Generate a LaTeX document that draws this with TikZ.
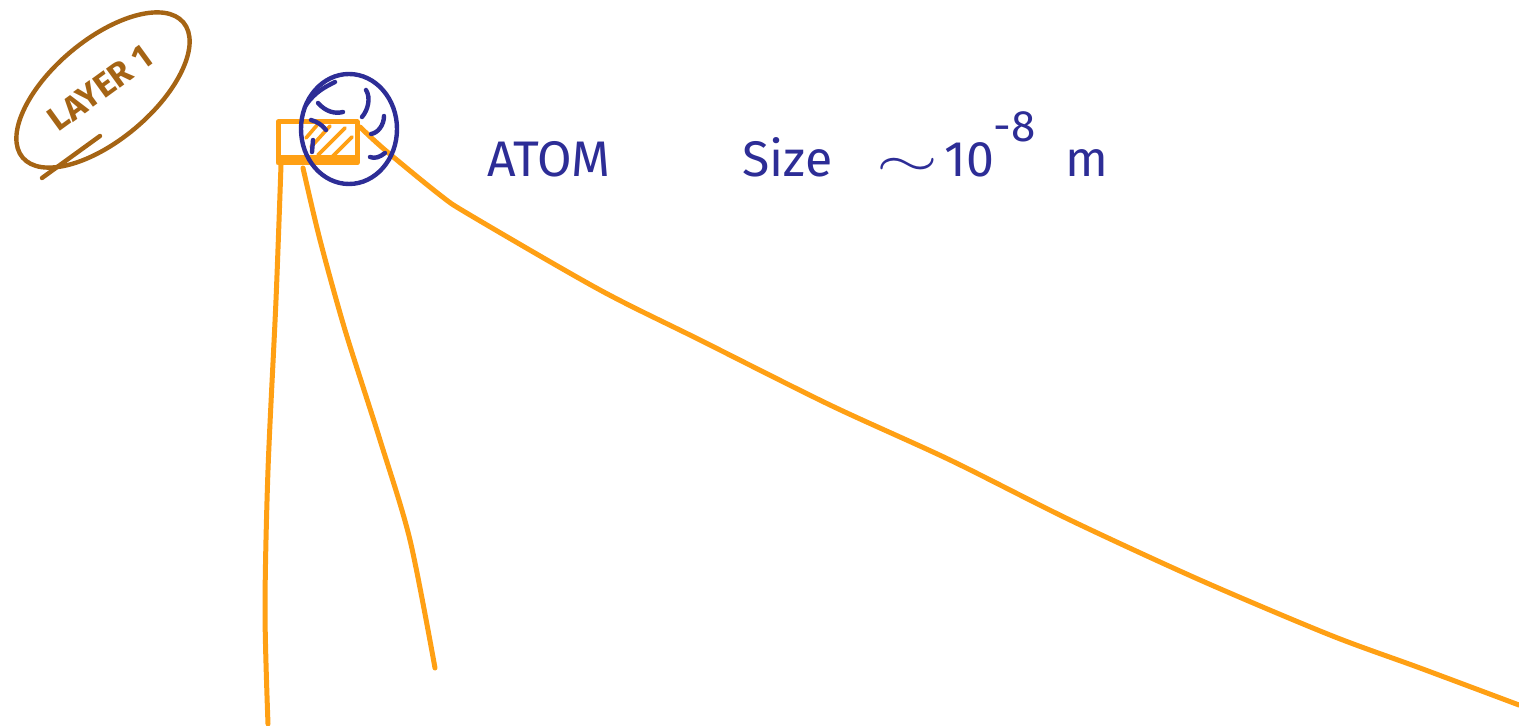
\documentclass[tikz,border=0pt]{standalone}
\usepackage{fontspec}
\setmainfont{Fira Sans}
\begin{document}
\begin{tikzpicture}[x=0.5pt,y=-0.5pt,
  orangestroke/.style={draw={rgb,255:red,255;green,160;blue,20}, line width=2.5pt, line cap=round, line join=round},
  bluestroke/.style={draw={rgb,255:red,45;green,45;blue,150}, line width=2.2pt, line cap=round},
  brownstroke/.style={draw={rgb,255:red,165;green,100;blue,20}, line width=2.2pt, line cap=round},
  bluetext/.style={text={rgb,255:red,45;green,45;blue,150}, font=\fontsize{25}{28}\selectfont, inner sep=0pt},
  browntext/.style={text={rgb,255:red,165;green,100;blue,20}, font=\fontsize{17}{19}\selectfont\bfseries, inner sep=0pt}]
\useasboundingbox (0,0) rectangle (1519,726);
% layer label
\draw[brownstroke, rotate around={40:(103,90)}] (103,90) ellipse [x radius=105, y radius=50];
\draw[brownstroke] (42,178) -- (100,136);
\node[browntext, rotate=36] (layer) at (100,88) {LAYER 1};
% orange lines
\draw[orangestroke] plot[smooth] coordinates {(281,165) (276,300) (268,470) (265,610) (268,724)};
\draw[orangestroke] plot[smooth] coordinates {(303,168) (320,240) (345,330) (380,440) (410,540) (435,668)};
\draw[orangestroke] plot[smooth] coordinates {(360,127) (385,150) (440,195) (470,215) (600,290) (700,340) (830,405) (950,460) (1070,520) (1200,580) (1330,635) (1420,668) (1519,705)};
% orange box with hatching
\draw[orangestroke] (278,122) rectangle (357,163);
\draw[orangestroke] (280,158) -- (357,158);
\draw[orangestroke, line width=1.8pt] (311,147) -- (330,126) (318,155) -- (345,128) (332,157) -- (352,137) (306,138) -- (318,124);
% blue atom
\draw[bluestroke] (349,129) ellipse [x radius=48, y radius=55];
\draw[bluestroke] (306,105) .. controls (315,92) and (325,87) .. (335,82);
\draw[bluestroke] (318,103) .. controls (326,112) and (335,114) .. (343,112);
\draw[bluestroke] (366,90) .. controls (371,98) and (368,110) .. (362,117);
\draw[bluestroke] (384,116) .. controls (384,125) and (378,133) .. (371,134);
\draw[bluestroke] (311,120) .. controls (318,122) and (322,125) .. (326,130);
\draw[bluestroke] (313,140) -- (312,152);
\draw[bluestroke] (370,157) .. controls (375,159) and (380,157) .. (385,153);
% texts
\node[bluetext, anchor=base west] (atom) at (487,177) {ATOM};
\node[bluetext, anchor=base west] (size) at (742,177) {Size\hspace{22pt}\scalebox{1.6}[1]{$\sim$}\hspace{3pt}10\raisebox{0.7em}{\fontsize{22}{24}\selectfont -8}\hspace{15pt}m};
\end{tikzpicture}
\end{document}
